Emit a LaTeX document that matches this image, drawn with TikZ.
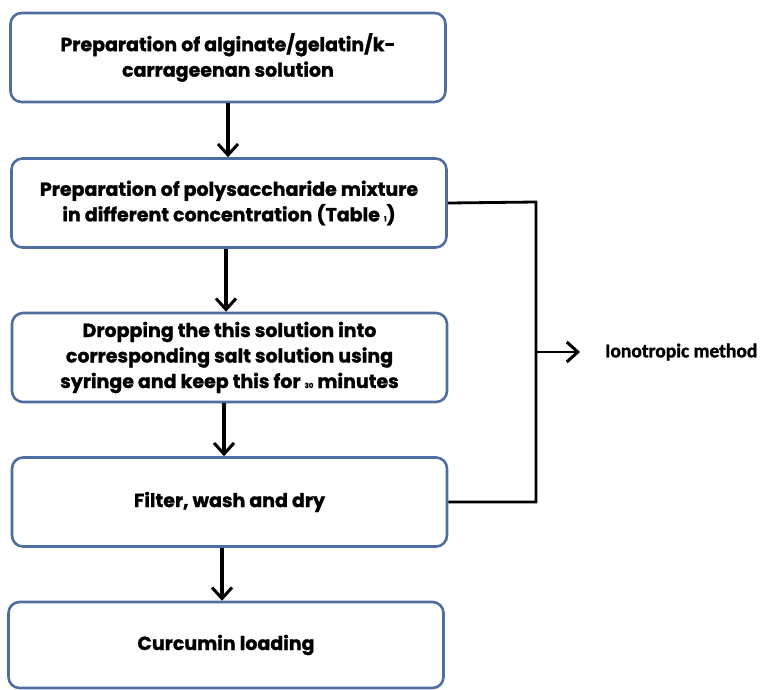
\documentclass[tikz,border=0pt]{standalone}
\usepackage{fontspec}
\setmainfont{Poppins}[BoldFeatures={FakeBold=1.2}]
\newfontfamily\labfont{Carlito}[BoldFeatures={FakeBold=1.5}]
\usetikzlibrary{arrows.meta,positioning}
\definecolor{marco}{RGB}{78,110,160}
\tikzset{
  paso/.style={draw=marco, line width=2.6pt, rounded corners=11pt, align=center, fill=white,
    minimum width=435pt, minimum height=89pt, inner sep=2pt,
    font=\fontsize{19}{25.5}\selectfont\bfseries},
  fl/.style={-{Straight Barb[length=11pt,width=20pt,line width=3pt]}, line width=3.4pt, black},
  rama/.style={line width=2.8pt, black},
  et/.style={font=\labfont\fontsize{19.5}{22}\selectfont\bfseries, anchor=west, inner sep=0pt},
}
\begin{document}
\begin{tikzpicture}[x=1pt,y=-1pt]
  \useasboundingbox (0,0) rectangle (764,689);
  \node[paso] (prep) at (228,57.5) {Preparation of alginate/gelatin/k-\\ carrageenan solution};
  \node[paso] (mezcla) at (229,203) {Preparation of polysaccharide mixture\\ in different concentration (Table {\scriptsize 1})};
  \node[paso] (goteo) at (229.5,357.5) {Dropping the this solution into\\ corresponding salt solution using\\ syringe and keep this for {\scriptsize 30} minutes};
  \node[paso] (filtro) at (229.5,502) {Filter, wash and dry};
  \node[paso, minimum height=86pt] (carga) at (226,645) {Curcumin loading};
  \coordinate (esq1) at (536,202);
  \coordinate (esq2) at (536,502);
  \coordinate (medio) at (536,352);
  \node[et] (metodo) at (605,352) {Ionotropic method};
  % main flow
  \draw[fl] (prep.south -| 228,0) -- (mezcla.north -| 228,0);
  \draw[fl] (mezcla.south -| 226,0) -- (goteo.north -| 226,0);
  \draw[fl] (goteo.south -| 224,0) -- (filtro.north -| 224,0);
  \draw[fl] (filtro.south -| 222,0) -- (carga.north -| 222,0);
  % bracket to the method
  \draw[rama] (mezcla.east) -- (esq1) -- (esq2) -- (filtro.east);
  \draw[fl, line width=2.8pt] (medio) -- ([xshift=-25pt]metodo.west);
\end{tikzpicture}
\end{document}
